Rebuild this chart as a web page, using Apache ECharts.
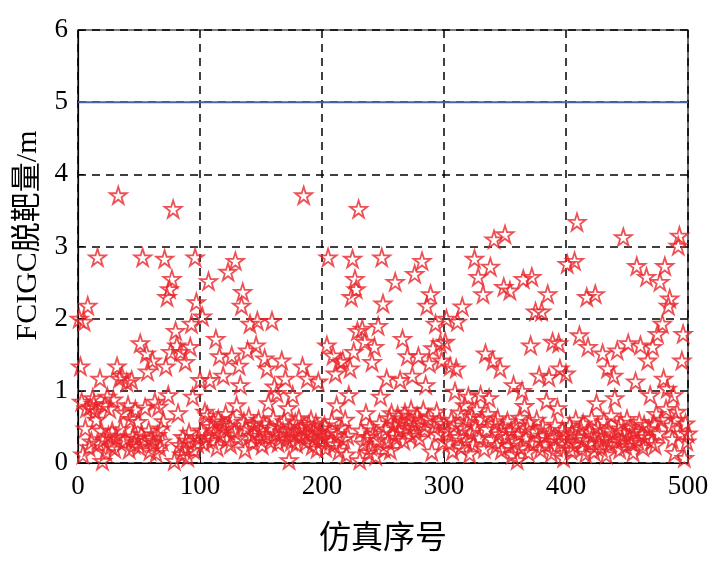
<!DOCTYPE html>
<html>
<head>
<meta charset="utf-8">
<script src="https://cdn.jsdelivr.net/npm/echarts@6/dist/echarts.min.js"></script>
<style>html,body{margin:0;padding:0;background:#fff;}#c{width:727px;height:561px;}</style>
</head>
<body>
<div id="c"></div>
<script>
// Simulation index 1..100
const seg1 = [2.0,1.34,0.85,0.12,1.96,0.48,0.76,2.18,0.22,0.78,0.3,0.9,0.82,0.72,0.6,2.85,0.27,1.17,0.45,0.03,
0.33,0.8,0.15,0.92,0.38,0.75,0.24,0.44,0.88,0.2,0.36,1.34,3.71,1.17,0.47,1.21,0.29,0.7,0.33,1.12,
0.8,0.19,0.61,1.15,0.37,0.26,0.74,0.34,0.57,0.23,1.66,0.4,2.85,0.31,0.77,1.52,1.27,0.45,0.17,0.35,
1.42,0.28,0.85,0.14,0.39,0.78,0.22,0.48,0.3,0.58,2.83,1.34,2.3,0.94,2.41,1.54,2.55,3.52,0.03,1.83,
1.63,0.69,0.25,1.54,0.12,0.36,0.2,1.4,0.31,0.08,0.42,1.61,1.93,0.92,0.18,2.85,2.23,0.27,0.35,1.15];
// 101..200
const seg2 = [0.45,2.03,0.28,0.71,0.36,0.66,2.52,1.15,0.5,0.31,0.58,0.42,1.72,0.22,0.61,1.48,0.39,0.55,1.21,0.47,
0.68,0.33,2.65,0.52,0.26,1.49,0.6,0.44,2.8,0.8,0.35,1.35,1.08,2.18,2.37,0.57,0.19,0.48,1.56,0.64,
1.93,0.38,0.29,0.53,0.41,1.63,1.97,0.6,0.34,0.46,0.25,0.55,1.45,0.37,1.31,0.83,0.49,0.3,1.97,0.62,
1.06,0.4,0.97,0.28,0.51,0.35,1.42,0.44,0.58,1.17,0.33,0.76,0.04,0.47,0.3,0.94,0.39,0.56,0.27,0.45,
0.62,0.36,0.5,1.34,3.71,0.41,0.29,1.17,0.53,0.38,0.6,0.24,0.46,0.33,0.55,0.2,1.13,0.42,0.31,0.48];
// 201..300
const seg3 = [0.35,0.52,0.21,1.63,2.85,0.44,0.3,0.58,1.49,0.26,1.24,0.8,0.4,0.17,1.4,0.49,1.42,0.33,0.6,0.12,
0.38,0.94,1.31,2.3,2.83,1.54,2.55,2.41,1.83,3.52,0.04,0.45,1.86,0.27,1.68,0.69,0.36,0.15,0.5,0.23,
1.4,0.41,1.61,0.1,0.32,1.9,0.55,0.92,2.85,2.21,0.2,0.47,1.17,0.3,0.62,0.18,0.69,0.4,0.53,2.51,
0.35,0.66,0.45,1.15,0.58,1.72,0.31,0.7,0.49,1.48,0.6,0.38,0.74,1.21,0.52,2.62,0.43,0.65,1.48,0.34,
0.56,2.8,0.73,0.47,1.08,2.18,0.62,1.38,2.34,0.16,1.59,0.5,1.93,0.71,0.4,0.58,1.66,1.42,0.3,0.55];
// 301..400
const seg4 = [1.68,2.0,0.45,0.28,1.34,0.6,0.17,0.52,0.99,1.31,1.96,0.36,0.7,0.22,2.17,0.48,0.8,0.31,0.57,0.92,
0.13,0.42,0.65,0.26,2.83,0.5,0.74,2.58,0.35,0.94,0.61,2.34,0.2,1.52,0.47,0.68,0.9,2.72,0.33,1.42,
3.1,0.55,0.25,0.62,0.4,1.31,0.18,0.5,2.44,3.17,0.36,0.58,0.24,2.39,0.45,0.12,1.08,0.3,0.52,0.04,
0.4,0.63,0.21,1.0,2.55,0.79,0.34,0.48,0.15,0.57,1.63,2.58,0.27,0.44,2.1,0.6,0.32,1.21,0.19,2.1,
0.5,0.38,0.26,0.86,2.34,1.19,0.41,0.14,1.68,0.35,0.53,0.22,0.76,1.66,1.31,0.3,0.46,0.07,0.39,1.24];
// 401..500
const seg5 = [2.76,0.3,0.52,0.18,0.41,0.25,2.8,0.6,3.34,0.36,1.77,0.47,0.2,0.55,0.32,0.13,2.3,1.61,0.44,0.27,
0.62,0.38,0.16,2.34,0.83,0.5,0.29,0.4,0.21,1.52,0.58,0.34,0.12,1.31,0.45,0.26,0.66,0.37,1.21,0.9,
0.3,1.56,0.48,0.19,0.56,0.33,3.13,0.42,0.24,0.61,1.66,0.35,0.5,0.28,0.15,0.44,1.13,2.73,0.31,0.57,
1.63,0.4,0.22,0.53,0.36,2.58,1.42,0.47,0.94,0.3,1.61,0.55,0.25,0.68,1.79,0.41,2.51,0.6,1.93,1.17,
2.73,0.75,1.03,2.18,2.28,0.52,0.33,0.94,0.14,0.6,0.71,3.01,3.15,0.41,1.42,1.79,0.07,0.55,0.3,0.41];

const missDistance = seg1.concat(seg2, seg3, seg4, seg5);
const thresholdX = [0, 500];
const thresholdY = [5, 5];
const xTicks = [0, 100, 200, 300, 400, 500];
const yTicks = [0, 1, 2, 3, 4, 5, 6];

const scatterData = missDistance.map((v, i) => [i + 1, v]);
const lineData = thresholdX.map((x, i) => [x, thresholdY[i]]);

const STAR = 'path://M50,2 L61.2,36.6 L97.6,36.6 L68.2,58 L79.4,92.6 L50,71.2 L20.6,92.6 L31.8,58 L2.4,36.6 L38.8,36.6 Z';
const FONT = '"Liberation Serif","Noto Sans CJK SC",serif';

const chart = echarts.init(document.getElementById('c'), null, {renderer: 'canvas'});
chart.setOption({
  backgroundColor: '#fff',
  animation: false,
  grid: {left: 78, right: 39, top: 30, bottom: 96, show: true, borderColor: '#000', borderWidth: 1.2},
  xAxis: {
    type: 'value', min: xTicks[0], max: xTicks[xTicks.length - 1], interval: 100,
    name: '仿真序号', nameLocation: 'middle', nameGap: 61,
    nameTextStyle: {fontFamily: FONT, fontSize: 32, color: '#000'},
    axisLine: {show: true, onZero: false, lineStyle: {color: '#000', width: 1.2}},
    axisTick: {show: true, inside: true, length: 6, lineStyle: {color: '#000'}},
    axisLabel: {fontFamily: FONT, fontSize: 27, color: '#000', margin: 10},
    splitLine: {show: true, lineStyle: {color: '#000', type: [8, 6], width: 1.5}}
  },
  yAxis: {
    type: 'value', min: yTicks[0], max: yTicks[yTicks.length - 1], interval: 1,
    name: 'FCIGC脱靶量/m', nameLocation: 'middle', nameGap: 27, nameRotate: 90,
    nameTextStyle: {fontFamily: FONT, fontSize: 30, color: '#000', padding: [0, 0, 0, 22]},
    axisLine: {show: true, lineStyle: {color: '#000', width: 1.2}},
    axisTick: {show: true, inside: true, length: 6, lineStyle: {color: '#000'}},
    axisLabel: {fontFamily: FONT, fontSize: 27, color: '#000', margin: 10},
    splitLine: {show: true, lineStyle: {color: '#000', type: [8, 6], width: 1.5}}
  },
  series: [
    {
      type: 'line', data: lineData, symbol: 'none', silent: true,
      lineStyle: {color: '#4a62a8', width: 2}, z: 3
    },
    {
      type: 'scatter', data: scatterData, symbol: STAR, symbolSize: 17,
      itemStyle: {color: 'rgba(0,0,0,0)', borderColor: '#e8262b', borderWidth: 1.8}, z: 4
    }
  ]
});
</script>
</body>
</html>
